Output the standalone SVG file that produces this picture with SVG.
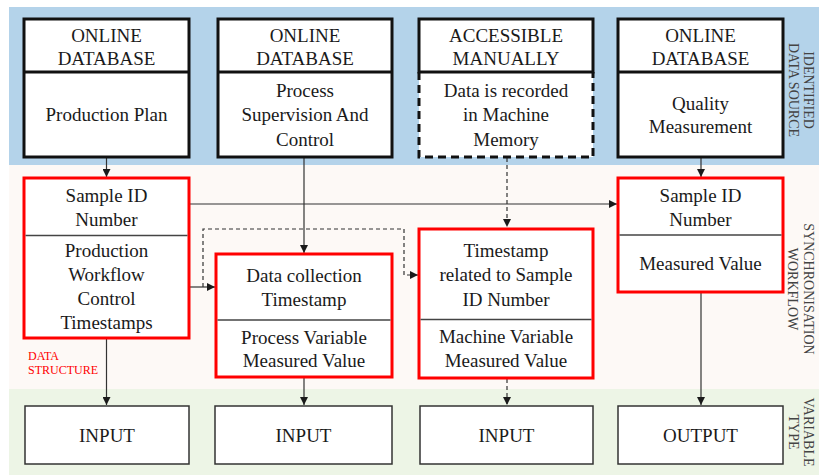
<svg xmlns="http://www.w3.org/2000/svg" width="819" height="475" viewBox="0 0 819 475">
<defs>
<marker id="arr" viewBox="0 0 10 10" refX="10" refY="5" markerWidth="9" markerHeight="8" markerUnits="userSpaceOnUse" orient="auto"><path d="M0,0 L10,5 L0,10 z" fill="#1a1a1a"/></marker>
<style>
.t{font-family:"Liberation Serif","Times New Roman",serif;font-size:19px;fill:#1a1a1a;text-anchor:middle}
.lbl{font-family:"Liberation Serif","Times New Roman",serif;font-size:14px;fill:#444;text-anchor:middle}
.red{font-family:"Liberation Serif","Times New Roman",serif;font-size:12px;fill:#ff0000}
.src{fill:#fff;stroke:#111;stroke-width:3}
.srcl{stroke:#111;stroke-width:3;fill:none}
.ds{fill:#fff;stroke:#ff0000;stroke-width:3}
.dv{stroke:#444;stroke-width:1.3}
.out{fill:#fff;stroke:#333;stroke-width:1.5}
.c{stroke:#333;stroke-width:1.2;fill:none}
.cd{stroke:#333;stroke-width:1.2;fill:none;stroke-dasharray:4 3}
</style>
</defs>
<g id="bands">
<rect x="9" y="7" width="810" height="158" fill="#b4d3ea"/>
<rect x="9" y="165" width="810" height="224" fill="#fdf9f6"/>
<rect x="9" y="389" width="810" height="86" fill="#edf5e6"/>
<text class="lbl" transform="translate(804,90) rotate(90)"><tspan x="0" y="0">IDENTIFIED</tspan><tspan x="0" y="15">DATA SOURCE</tspan></text>
<text class="lbl" transform="translate(804,289) rotate(90)"><tspan x="0" y="0">SYNCHRONISATION</tspan><tspan x="0" y="16">WORKFLOW</tspan></text>
<text class="lbl" transform="translate(804,432) rotate(90)"><tspan x="0" y="0">VARIABLE</tspan><tspan x="0" y="15">TYPE</tspan></text>
</g>
<g id="connectors">
<line class="c" x1="106.5" y1="158" x2="106.5" y2="177" marker-end="url(#arr)"/>
<line class="c" x1="304" y1="158" x2="304" y2="253" marker-end="url(#arr)"/>
<line class="cd" x1="507" y1="158" x2="507" y2="227" marker-end="url(#arr)"/>
<line class="c" x1="701" y1="158" x2="701" y2="177" marker-end="url(#arr)"/>
<line class="c" x1="190" y1="204" x2="617" y2="204" marker-end="url(#arr)"/>
<line class="c" x1="190" y1="287" x2="215" y2="287" marker-end="url(#arr)"/>
<path class="cd" d="M203,287 V229 H404 V275 H418" marker-end="url(#arr)"/>
<line class="c" x1="106.5" y1="339" x2="106.5" y2="405" marker-end="url(#arr)"/>
<line class="c" x1="304" y1="378" x2="304" y2="405" marker-end="url(#arr)"/>
<line class="cd" x1="507" y1="379" x2="507" y2="405" marker-end="url(#arr)"/>
<line class="c" x1="701" y1="293" x2="701" y2="405" marker-end="url(#arr)"/>
</g>
<g id="src-production-plan">
<rect class="src" x="24" y="19" width="165" height="138"/>
<line class="srcl" x1="24" y1="72" x2="189" y2="72"/>
<text class="t"><tspan x="106.5" y="42">ONLINE</tspan><tspan x="106.5" y="65">DATABASE</tspan></text>
<text class="t" x="106.5" y="121">Production Plan</text>
</g>
<g id="src-process-supervision">
<rect class="src" x="218" y="19" width="174" height="138"/>
<line class="srcl" x1="218" y1="72" x2="392" y2="72"/>
<text class="t"><tspan x="305" y="42">ONLINE</tspan><tspan x="305" y="65">DATABASE</tspan></text>
<text class="t"><tspan x="305" y="97">Process</tspan><tspan x="305" y="121">Supervision And</tspan><tspan x="305" y="146">Control</tspan></text>
</g>
<g id="src-machine-memory">
<rect x="419" y="19" width="174" height="138" fill="#fff"/>
<path class="srcl" d="M419,72 V19 H593 V72 Z"/>
<path class="srcl" d="M419,72 V157 H593 V72" stroke-dasharray="8 5"/>
<text class="t"><tspan x="506" y="42">ACCESSIBLE</tspan><tspan x="506" y="65">MANUALLY</tspan></text>
<text class="t"><tspan x="506" y="97">Data is recorded</tspan><tspan x="506" y="121">in Machine</tspan><tspan x="506" y="146">Memory</tspan></text>
</g>
<g id="src-quality">
<rect class="src" x="618" y="19" width="165" height="138"/>
<line class="srcl" x1="618" y1="72" x2="783" y2="72"/>
<text class="t"><tspan x="700.5" y="42">ONLINE</tspan><tspan x="700.5" y="65">DATABASE</tspan></text>
<text class="t"><tspan x="700.5" y="110">Quality</tspan><tspan x="700.5" y="133">Measurement</tspan></text>
</g>
<g id="ds-sample-id-1">
<rect class="ds" x="24" y="178" width="165" height="160"/>
<line class="dv" x1="25.5" y1="235.5" x2="187.5" y2="235.5"/>
<text class="t"><tspan x="106.5" y="202">Sample ID</tspan><tspan x="106.5" y="226">Number</tspan></text>
<text class="t"><tspan x="106.5" y="257">Production</tspan><tspan x="106.5" y="281">Workflow</tspan><tspan x="106.5" y="305">Control</tspan><tspan x="106.5" y="329">Timestamps</tspan></text>
<text class="red"><tspan x="28" y="360">DATA</tspan><tspan x="28" y="374">STRUCTURE</tspan></text>
</g>
<g id="ds-data-collection">
<rect class="ds" x="216" y="254" width="176" height="123"/>
<line class="dv" x1="217.5" y1="320" x2="390.5" y2="320" stroke="#111" stroke-width="2"/>
<text class="t"><tspan x="304" y="282">Data collection</tspan><tspan x="304" y="306">Timestamp</tspan></text>
<text class="t"><tspan x="304" y="344">Process Variable</tspan><tspan x="304" y="367">Measured Value</tspan></text>
</g>
<g id="ds-timestamp-sample">
<rect class="ds" x="419" y="229" width="174" height="149"/>
<line class="dv" x1="420.5" y1="319.5" x2="591.5" y2="319.5"/>
<text class="t"><tspan x="506" y="257">Timestamp</tspan><tspan x="506" y="281">related to Sample</tspan><tspan x="506" y="306">ID Number</tspan></text>
<text class="t"><tspan x="506" y="343">Machine Variable</tspan><tspan x="506" y="367">Measured Value</tspan></text>
</g>
<g id="ds-sample-id-2">
<rect class="ds" x="618" y="178" width="165" height="114"/>
<line class="dv" x1="619.5" y1="235" x2="781.5" y2="235"/>
<text class="t"><tspan x="700.5" y="202">Sample ID</tspan><tspan x="700.5" y="226">Number</tspan></text>
<text class="t" x="700.5" y="270">Measured Value</text>
</g>
<g id="type-input-1">
<rect class="out" x="25" y="406" width="164" height="58"/>
<text class="t" x="107" y="442">INPUT</text>
</g>
<g id="type-input-2">
<rect class="out" x="215" y="406" width="177" height="58"/>
<text class="t" x="303.5" y="442">INPUT</text>
</g>
<g id="type-input-3">
<rect class="out" x="420" y="406" width="173" height="58"/>
<text class="t" x="506.5" y="442">INPUT</text>
</g>
<g id="type-output">
<rect class="out" x="618" y="406" width="165" height="58"/>
<text class="t" x="700.5" y="442">OUTPUT</text>
</g>
</svg>
